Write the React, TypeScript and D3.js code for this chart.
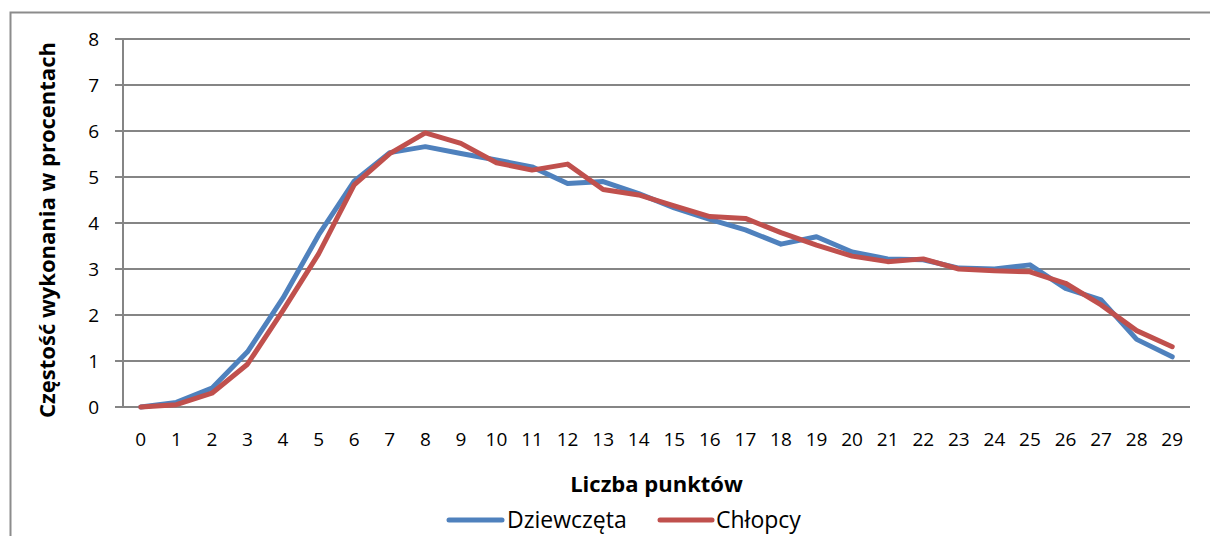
import React from "react";
import * as d3 from "d3";

const categories: number[] = Array.from({ length: 30 }, (_, i) => i);
const dziewczeta: number[] = [0.0, 0.1, 0.41, 1.2, 2.37, 3.74, 4.91, 5.53, 5.66, 5.51, 5.37, 5.22, 4.86, 4.9, 4.64, 4.33, 4.08, 3.85, 3.54, 3.7, 3.37, 3.22, 3.2, 3.02, 3.0, 3.09, 2.58, 2.33, 1.47, 1.09];
const chlopcy: number[] = [0.0, 0.05, 0.3, 0.93, 2.1, 3.33, 4.83, 5.51, 5.96, 5.73, 5.31, 5.15, 5.28, 4.73, 4.61, 4.37, 4.14, 4.1, 3.79, 3.52, 3.28, 3.16, 3.22, 3.0, 2.96, 2.94, 2.69, 2.22, 1.66, 1.31];
const yTicks: number[] = [0, 1, 2, 3, 4, 5, 6, 7, 8];
const seriesNames: string[] = ["Dziewczęta", "Chłopcy"];
const colors: string[] = ["#4F81BD", "#C0504D"];

const W = 1210;
const H = 536;
const left = 123;
const right = 1190;
const top = 39;
const bottom = 407;
const font = "'Open Sans', sans-serif";

export default function App() {
  const x = d3.scaleBand<number>().domain(categories).range([left, right]);
  const y = d3.scaleLinear().domain([0, 8]).range([bottom, top]);
  const cx = (c: number) => (x(c) as number) + x.bandwidth() / 2;
  const line = d3
    .line<number>()
    .x((_, i) => cx(categories[i]))
    .y((d) => y(d));
  const series = [dziewczeta, chlopcy];
  const grid = "#858585";
  return (
    <svg width={W} height={H} style={{ position: "absolute", left: 0, top: 0, background: "#fff" }}>
      <rect x={0} y={0} width={W} height={H} fill="#fff" />
      <path d={`M10.5,${H} L10.5,12.5 L${W},12.5`} fill="none" stroke="#8c8c8c" strokeWidth={2} />
      {yTicks.map((t) => (
        <g key={t}>
          <line x1={left - 8} x2={right} y1={y(t)} y2={y(t)} stroke={grid} strokeWidth={2} />
          <text x={99} y={y(t)} dy="0.36em" textAnchor="end" fontFamily={font} fontSize={19} fill="#000">
            {t}
          </text>
        </g>
      ))}
      <line x1={left} x2={left} y1={top} y2={bottom} stroke={grid} strokeWidth={2} />
      {categories.map((c) => (
        <text key={c} x={cx(c)} y={446} textAnchor="middle" fontFamily={font} fontSize={19} fill="#000">
          {c}
        </text>
      ))}
      {series.map((s, k) => (
        <path key={k} d={line(s) as string} fill="none" stroke={colors[k]} strokeWidth={5} strokeLinejoin="round" strokeLinecap="round" />
      ))}
      <text x={(left + right) / 2} y={492} textAnchor="middle" fontFamily={font} fontWeight="bold" fontSize={22} fill="#000">
        Liczba punktów
      </text>
      <text
        transform={`translate(55,${(top + bottom) / 2 + 7}) rotate(-90)`}
        textAnchor="middle"
        fontFamily={font}
        fontWeight="bold"
        fontSize={22}
        fill="#000"
      >
        Częstość wykonania w procentach
      </text>
      <line x1={449} x2={502} y1={520} y2={520} stroke={colors[0]} strokeWidth={5} strokeLinecap="round" />
      <text x={507} y={520} dy="0.36em" fontFamily={font} fontSize={23} fill="#000">
        {seriesNames[0]}
      </text>
      <line x1={660} x2={712} y1={520} y2={520} stroke={colors[1]} strokeWidth={5} strokeLinecap="round" />
      <text x={716} y={520} dy="0.36em" fontFamily={font} fontSize={23} fill="#000">
        {seriesNames[1]}
      </text>
    </svg>
  );
}
